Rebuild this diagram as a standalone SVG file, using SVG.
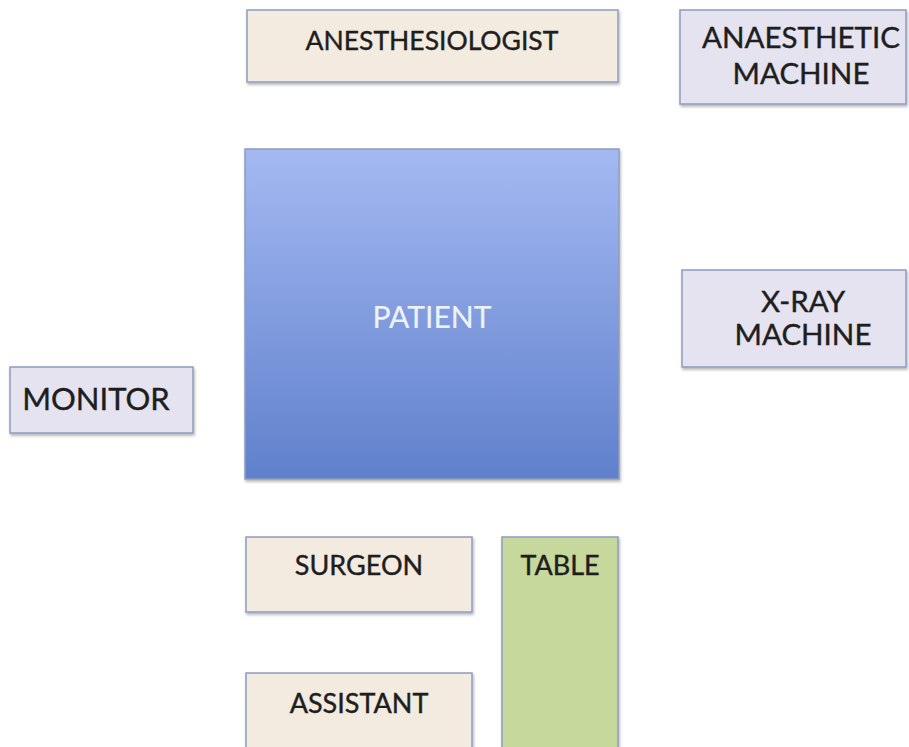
<svg xmlns="http://www.w3.org/2000/svg" width="909" height="747" viewBox="0 0 909 747">
<defs>
<linearGradient id="pg" x1="0" y1="0" x2="0" y2="1">
<stop offset="0" stop-color="#A4B9F2"/>
<stop offset="1" stop-color="#5F80CB"/>
</linearGradient>
<filter id="sh" x="-5%" y="-5%" width="115%" height="120%">
<feDropShadow dx="1" dy="2" stdDeviation="1.5" flood-color="#000" flood-opacity="0.3"/>
</filter>
</defs>
<style>
rect{stroke:#8D9CC0;stroke-width:1.5;filter:url(#sh)}
.beige{fill:#F3EAE0}
.lav{fill:#E4E3EF}
.green{fill:#C6D89C}
.pat{fill:url(#pg)}
text{font-family:Lato,"Open Sans",sans-serif;font-size:27px;fill:#1E1E1E;stroke:#1E1E1E;stroke-width:0.4;text-anchor:middle}
.w{fill:#EEF2FA;stroke:#EEF2FA;stroke-width:0.2;font-size:30px}
.big{font-size:29.5px}
</style>
<rect width="909" height="747" fill="#fff" style="stroke:none;filter:none"/>
<g id="anesthesiologist">
<rect class="beige" x="247" y="10" width="371" height="72"/>
<text x="432" y="50" style="font-size:26.5px">ANESTHESIOLOGIST</text>
</g>
<g id="anaesthetic-machine">
<rect class="lav" x="680" y="10" width="226" height="94"/>
<text class="big" x="801" y="48">ANAESTHETIC</text>
<text class="big" x="801" y="84">MACHINE</text>
</g>
<g id="patient">
<rect class="pat" x="245" y="149" width="374" height="330"/>
<text class="w" x="432" y="328">PATIENT</text>
</g>
<g id="xray-machine">
<rect class="lav" x="682" y="270" width="224" height="97"/>
<text class="big" x="803" y="312">X-RAY</text>
<text class="big" x="803" y="345">MACHINE</text>
</g>
<g id="monitor">
<rect class="lav" x="10" y="367" width="183" height="66"/>
<text x="96" y="410" style="font-size:31px">MONITOR</text>
</g>
<g id="surgeon">
<rect class="beige" x="246" y="537" width="226" height="75"/>
<text x="359" y="575">SURGEON</text>
</g>
<g id="assistant">
<rect class="beige" x="246" y="673" width="226" height="90"/>
<text x="359" y="713">ASSISTANT</text>
</g>
<g id="table">
<rect class="green" x="502" y="537" width="116" height="226"/>
<text x="560" y="575">TABLE</text>
</g>
<g id="connectors"/>
</svg>
